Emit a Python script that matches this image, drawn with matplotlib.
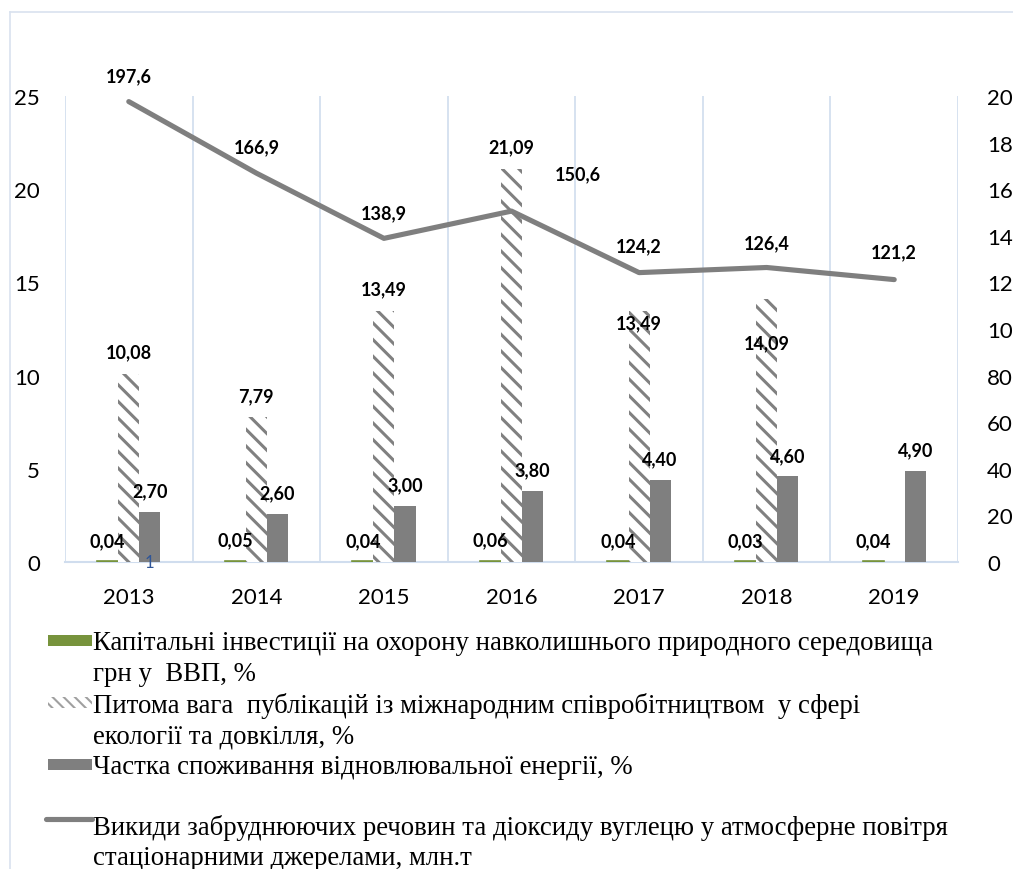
import matplotlib
matplotlib.use("Agg")
import matplotlib.pyplot as plt
import numpy as np
from matplotlib.patches import Rectangle
from matplotlib.lines import Line2D

# ---------------- data ----------------
years = ["2013", "2014", "2015", "2016", "2017", "2018", "2019"]
capital_invest = [0.04, 0.05, 0.04, 0.06, 0.04, 0.03, 0.04]
publications = [10.08, 7.79, 13.49, 21.09, 13.49, 14.09, None]
renewable = [2.70, 2.60, 3.00, 3.80, 4.40, 4.60, 4.90]
emissions = [197.6, 166.9, 138.9, 150.6, 124.2, 126.4, 121.2]

left_ticks = [0, 5, 10, 15, 20, 25]
right_ticks = [0, 20, 40, 60, 80, 100, 120, 140, 160, 180, 200]

legend_lines = [
    "Капітальні інвестиції на охорону навколишнього природного середовища",
    "грн у  ВВП, %",
    "Питома вага  публікацій із міжнародним співробітництвом  у сфері",
    "екології та довкілля, %",
    "Частка споживання відновлювальної енергії, %",
    "Викиди забруднюючих речовин та діоксиду вуглецю у атмосферне повітря",
    "стаціонарними джерелами, млн.т",
]

# label offsets in pixels (style)
pub_offsets = [(0, 22), (0, 21), (0, 22), (0, 22), (0, -12), (0, -43), (0, 0)]
line_offsets = [(0, 26), (0, 26), (0, 26), (66, 37), (0, 27), (0, 25), (0, 28)]

GRAY = "#7f7f7f"
GREEN = "#77933c"
GRID = "#d0ddee"

def fmt(v, nd):
    return f"{v:.{nd}f}".replace(".", ",")

plt.rcParams["hatch.linewidth"] = 2.2

W, H = 1013, 870
fig = plt.figure(figsize=(W / 100, H / 100), dpi=100)
fig.patch.set_facecolor("white")

ax = fig.add_axes([65 / W, 1 - 563 / H, (958 - 65) / W, (563 - 97) / H])
ax2 = ax.twinx()

x = np.arange(len(years))
bw = 0.165

ax.bar(x - bw, capital_invest, bw, color=GREEN, edgecolor=GREEN, linewidth=1.2, zorder=3)
pub_x = [xi for xi, v in zip(x, publications) if v is not None]
pub_v = [v for v in publications if v is not None]
ax.bar(pub_x, pub_v, bw, facecolor="white", edgecolor="#808080",
       hatch="\\\\", linewidth=0, zorder=3)
ax.bar(x + bw, renewable, bw, color=GRAY, zorder=3)

ax2.plot(x, emissions, color=GRAY, lw=3.7, solid_capstyle="round",
         solid_joinstyle="round", zorder=4)

lab_kw = dict(family="Lato", fontweight="bold", fontsize=13, color="black",
              ha="center", va="center", textcoords="offset pixels")

for xi, v in zip(x, capital_invest):
    ax.annotate(fmt(v, 2), (xi - bw, v), xytext=(0, 21), **lab_kw)
for xi, v, off in zip(x, publications, pub_offsets):
    if v is not None:
        ax.annotate(fmt(v, 2), (xi, v), xytext=off, **lab_kw)
for xi, v in zip(x, renewable):
    ax.annotate(fmt(v, 2), (xi + bw, v), xytext=(0, 21), **lab_kw)
for xi, v, off in zip(x, emissions, line_offsets):
    ax2.annotate(fmt(v, 1), (xi, v), xytext=off, **lab_kw)

ax.text(x[0] + bw, 0, "1", family="Lato", fontsize=12, color="#2f5597",
        ha="center", va="center", zorder=6)

ax.set_xlim(-0.5, len(years) - 0.5)
ax.set_ylim(0, 25)
ax2.set_ylim(0, 200)
ax.set_yticks(left_ticks)
ax2.set_yticks(right_ticks)
ax.set_xticks(x)
ax.set_xticklabels(years)
ax.set_xticks(np.arange(-0.5, len(years), 1.0), minor=True)
ax.grid(True, which="minor", axis="x", color=GRID, lw=1.2, zorder=0)
ax.grid(False, which="major")

for a in (ax, ax2):
    for s in a.spines.values():
        s.set_visible(False)
ax.spines["bottom"].set_visible(True)
ax.spines["bottom"].set_color(GRID)
ax.spines["bottom"].set_linewidth(1.5)

ax.tick_params(axis="both", which="both", length=0)
ax2.tick_params(axis="both", which="both", length=0)
ax.tick_params(axis="y", pad=18)
ax2.tick_params(axis="y", pad=21)
ax.tick_params(axis="x", pad=18)
for t in ax.get_xticklabels() + ax.get_yticklabels() + ax2.get_yticklabels():
    t.set_family("Lato")
    t.set_fontsize(16)
    t.set_color("black")

ax2.patch.set_visible(False)

# outer chart border
fig.add_artist(Line2D([10 / W, 10 / W], [0, 1 - 13 / H], transform=fig.transFigure,
                      color="#d9e2ef", lw=1.2))
fig.add_artist(Line2D([10 / W, 1], [1 - 13 / H, 1 - 13 / H], transform=fig.transFigure,
                      color="#d9e2ef", lw=1.2))

# legend (manual)
text_y = [644, 675, 706, 737, 768, 828, 859]
for line, yy in zip(legend_lines, text_y):
    fig.text(93 / W, 1 - yy / H, line, family="Liberation Serif", fontsize=19.25,
             ha="left", va="center", color="black")

def rect(x0, y0, x1, y1, **kw):
    fig.add_artist(Rectangle((x0 / W, 1 - y1 / H), (x1 - x0) / W, (y1 - y0) / H,
                             transform=fig.transFigure, **kw))

rect(48, 636, 92, 647, facecolor=GREEN, edgecolor="none")
with plt.rc_context({"hatch.linewidth": 1.5}):
    rect(48, 698, 92, 709, facecolor="white", edgecolor="#a0a0a0", hatch="\\\\\\", linewidth=0)
rect(48, 760, 92, 771, facecolor=GRAY, edgecolor="none")
fig.add_artist(Line2D([46 / W, 92 / W], [1 - 820 / H, 1 - 820 / H], transform=fig.transFigure,
                      color=GRAY, lw=3.7, solid_capstyle="round"))

fig.savefig("out.png", dpi=100)
